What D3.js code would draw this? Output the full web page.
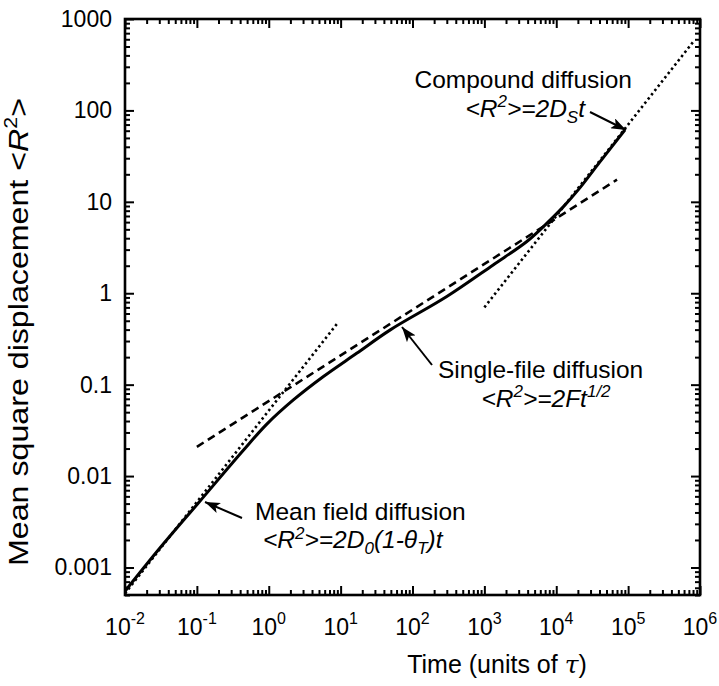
<!DOCTYPE html>
<html><head><meta charset="utf-8">
<script src="https://cdn.jsdelivr.net/npm/d3@7"></script>
<style>
body{margin:0;background:#fff}
text{font-family:"Liberation Sans",Arial,Helvetica,sans-serif;fill:#000}
</style>
</head><body>
<svg id="chart" width="719" height="686"></svg>
<script>
// ---- data ----
const xTickValues = [1e-2, 1e-1, 1e0, 1e1, 1e2, 1e3, 1e4, 1e5, 1e6];
const xTickExponents = ["-2", "-1", "0", "1", "2", "3", "4", "5", "6"];
const yTickValues = [0.001, 0.01, 0.1, 1, 10, 100, 1000];
const yTickLabels = ["0.001", "0.01", "0.1", "1", "10", "100", "1000"];

const simTime = [0.01, 0.03, 0.11, 0.44, 0.94, 2.2, 5.7, 16.7, 48.5, 300, 1325, 3860, 6580, 12500, 20200, 40000, 90000];
const simMSD  = [0.00055, 0.0016, 0.0053, 0.019, 0.037, 0.068, 0.122, 0.22, 0.395, 0.92, 2.04, 3.66, 5.33, 8.8, 13.5, 27, 61];

const meanFieldTime = [0.01, 9];
const meanFieldMSD  = [0.00052, 0.468];
const singleFileTime = [0.1, 70000];
const singleFileMSD  = [0.0209, 17.46];
const compoundTime = [1000, 800000];
const compoundMSD  = [0.7, 560];

// ---- layout ----
const W = 719, H = 686;
const m = {left: 125, right: 19, top: 19, bottom: 91};
const iw = W - m.left - m.right, ih = H - m.top - m.bottom;
const svg = d3.select("#chart");
const g = svg.append("g").attr("transform", `translate(${m.left},${m.top})`);

const x = d3.scaleLog().domain([1e-2, 1e6]).range([0, iw]);
const y = d3.scaleLog().domain([0.0005, 1000]).range([ih, 0]);

// minor ticks
const xMinor = [];
for (let e = -2; e < 6; e++) for (let k = 2; k <= 9; k++) xMinor.push(k * Math.pow(10, e));
const yMinor = [];
for (let e = -4; e < 3; e++) for (let k = 2; k <= 9; k++) { const v = k * Math.pow(10, e); if (v >= 0.0005 && v <= 1000) yMinor.push(v); }

function styleAxis(sel) {
  sel.select(".domain").remove();
  sel.selectAll("line").attr("stroke", "#000").attr("stroke-width", 2);
}
const MAJ = 9, MIN = 5;
g.append("g").attr("transform", `translate(0,${ih})`).call(d3.axisBottom(x).tickValues(xTickValues).tickSize(-MAJ).tickFormat("")).call(styleAxis);
g.append("g").attr("transform", `translate(0,${ih})`).call(d3.axisBottom(x).tickValues(xMinor).tickSize(-MIN).tickFormat("")).call(styleAxis);
g.append("g").call(d3.axisTop(x).tickValues(xTickValues).tickSize(-MAJ).tickFormat("")).call(styleAxis);
g.append("g").call(d3.axisTop(x).tickValues(xMinor).tickSize(-MIN).tickFormat("")).call(styleAxis);
g.append("g").call(d3.axisLeft(y).tickValues(yTickValues).tickSize(-MAJ).tickFormat("")).call(styleAxis);
g.append("g").call(d3.axisLeft(y).tickValues(yMinor).tickSize(-MIN).tickFormat("")).call(styleAxis);
g.append("g").attr("transform", `translate(${iw},0)`).call(d3.axisRight(y).tickValues(yTickValues).tickSize(-MAJ).tickFormat("")).call(styleAxis);
g.append("g").attr("transform", `translate(${iw},0)`).call(d3.axisRight(y).tickValues(yMinor).tickSize(-MIN).tickFormat("")).call(styleAxis);

g.append("rect").attr("x", 0).attr("y", 0).attr("width", iw).attr("height", ih)
  .attr("fill", "none").attr("stroke", "#000").attr("stroke-width", 2.6);

// tick labels
xTickValues.forEach((v, i) => {
  const t = g.append("text").attr("x", x(v)).attr("y", ih + 40).attr("text-anchor", "middle").attr("font-size", 23);
  t.append("tspan").text("10");
  t.append("tspan").attr("font-size", 16).attr("dy", -11).text(xTickExponents[i]);
});
yTickValues.forEach((v, i) => {
  g.append("text").attr("x", -13).attr("y", y(v) + 8).attr("text-anchor", "end").attr("font-size", 23).text(yTickLabels[i]);
});

// axis titles
const xt = svg.append("text").attr("x", 497).attr("y", 673).attr("text-anchor", "middle").attr("font-size", 25);
xt.append("tspan").text("Time (units of ");
xt.append("tspan").attr("font-family", "DejaVu Serif").attr("font-style", "italic").text("τ");
xt.append("tspan").text(")");

const yt = svg.append("text").attr("transform", `translate(28,332) rotate(-90)`).attr("text-anchor", "middle")
  .attr("font-size", 27).attr("textLength", 468).attr("lengthAdjust", "spacingAndGlyphs");
yt.append("tspan").text("Mean square displacement <");
yt.append("tspan").attr("font-style", "italic").text("R");
yt.append("tspan").attr("font-size", 18).attr("dy", -11).text("2");
yt.append("tspan").attr("dy", 11).text(">");

// lines
const line = d3.line().x(d => x(d[0])).y(d => y(d[1]));
const zip = (a, b) => a.map((v, i) => [v, b[i]]);

g.append("path").datum(zip(meanFieldTime, meanFieldMSD)).attr("d", line)
  .attr("fill", "none").attr("stroke", "#000").attr("stroke-width", 2.6).attr("stroke-dasharray", "2.4,3");
g.append("path").datum(zip(compoundTime, compoundMSD)).attr("d", line)
  .attr("fill", "none").attr("stroke", "#000").attr("stroke-width", 2.6).attr("stroke-dasharray", "2.4,3");
g.append("path").datum(zip(singleFileTime, singleFileMSD)).attr("d", line)
  .attr("fill", "none").attr("stroke", "#000").attr("stroke-width", 2.6).attr("stroke-dasharray", "8,5");
g.append("path").datum(zip(simTime, simMSD)).attr("d", line.curve(d3.curveCatmullRom))
  .attr("fill", "none").attr("stroke", "#000").attr("stroke-width", 3);

// arrow marker
svg.append("defs").append("marker").attr("id", "ah").attr("viewBox", "0 0 15 11")
  .attr("refX", 15).attr("refY", 5.5).attr("markerWidth", 15).attr("markerHeight", 11)
  .attr("markerUnits", "userSpaceOnUse").attr("orient", "auto")
  .append("path").attr("d", "M0,0 L15,5.5 L0,11 L3.5,5.5 Z").attr("fill", "#000");

function arrow(x1, y1, x2, y2) {
  svg.append("line").attr("x1", x1).attr("y1", y1).attr("x2", x2).attr("y2", y2)
    .attr("stroke", "#000").attr("stroke-width", 2).attr("marker-end", "url(#ah)");
}
arrow(590, 112, 626, 130);
arrow(432, 365, 402, 327);
arrow(242, 518, 205, 502);

const AF = 24.5, SF = 17;
// compound
svg.append("text").attr("x", 632).attr("y", 88).attr("text-anchor", "end").attr("font-size", AF).text("Compound diffusion");
{
  const t = svg.append("text").attr("x", 585).attr("y", 117).attr("text-anchor", "end").attr("font-size", AF).attr("font-style", "italic");
  t.append("tspan").text("<R");
  t.append("tspan").attr("font-size", SF).attr("dy", -10).text("2");
  t.append("tspan").attr("dy", 10).text(">=2D");
  t.append("tspan").attr("font-size", SF).attr("dy", 6).text("S");
  t.append("tspan").attr("dy", -6).text("t");
}
// single file
svg.append("text").attr("x", 438).attr("y", 378).attr("font-size", AF).text("Single-file diffusion");
{
  const t = svg.append("text").attr("x", 546).attr("y", 407).attr("text-anchor", "middle").attr("font-size", AF).attr("font-style", "italic");
  t.append("tspan").text("<R");
  t.append("tspan").attr("font-size", SF).attr("dy", -10).text("2");
  t.append("tspan").attr("dy", 10).text(">=2Ft");
  t.append("tspan").attr("font-size", SF).attr("dy", -10).text("1/2");
}
// mean field
svg.append("text").attr("x", 255).attr("y", 520).attr("font-size", AF).text("Mean field diffusion");
{
  const t = svg.append("text").attr("x", 263).attr("y", 548).attr("font-size", AF).attr("font-style", "italic");
  t.append("tspan").text("<R");
  t.append("tspan").attr("font-size", SF).attr("dy", -9).text("2");
  t.append("tspan").attr("dy", 9).text(">=2D");
  t.append("tspan").attr("font-size", SF).attr("dy", 6).text("0");
  t.append("tspan").attr("dy", -6).text("(1-θ");
  t.append("tspan").attr("font-size", SF).attr("dy", 6).text("T");
  t.append("tspan").attr("dy", -6).text(")t");
}
</script>
</body></html>
